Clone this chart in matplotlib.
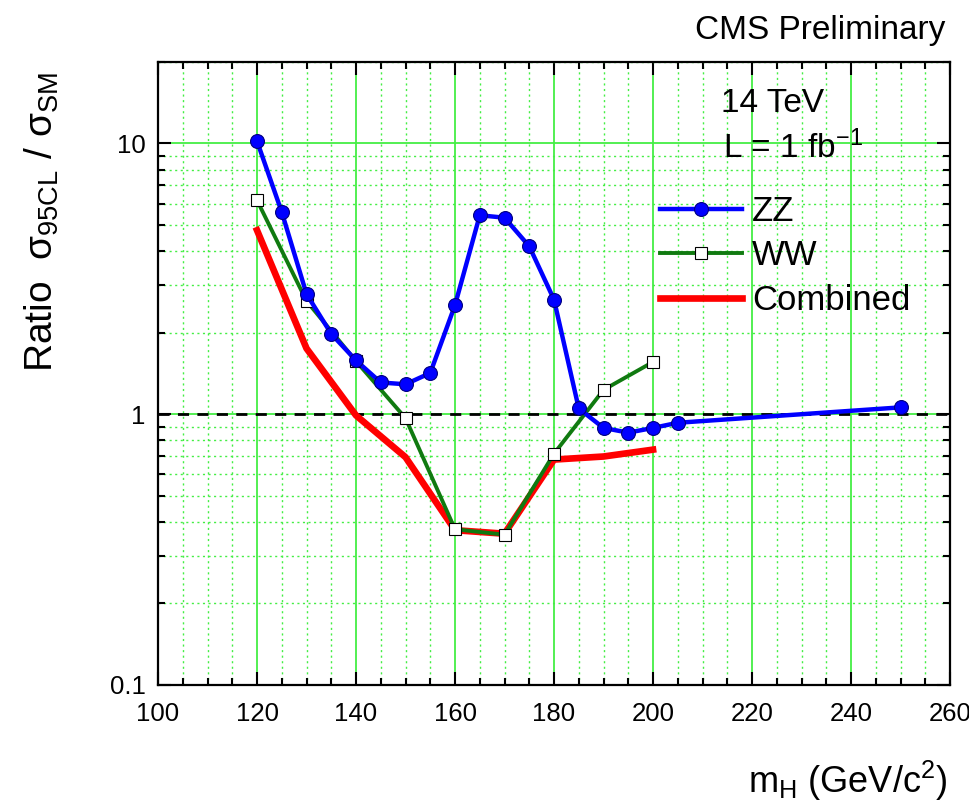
import matplotlib
matplotlib.use('Agg')
import matplotlib.pyplot as plt
from matplotlib.ticker import MultipleLocator, FixedLocator, LogLocator, NullFormatter

plt.rcParams['font.family'] = ['Liberation Sans', 'DejaVu Sans']
plt.rcParams['mathtext.fontset'] = 'custom'
plt.rcParams['mathtext.rm'] = 'Liberation Sans'
plt.rcParams['mathtext.it'] = 'Liberation Sans:italic'

# values
zz_mass = [120, 125, 130, 135, 140, 145, 150, 155, 160, 165, 170, 175, 180,
           185, 190, 195, 200, 205, 250]
zz_ratio = [10.2, 5.58, 2.78, 1.98, 1.58, 1.31, 1.29, 1.42, 2.53, 5.43, 5.32,
            4.17, 2.65, 1.05, 0.89, 0.855, 0.89, 0.93, 1.06]

ww_mass = [120, 130, 140, 150, 160, 170, 180, 190, 200]
ww_ratio = [6.17, 2.62, 1.57, 0.967, 0.376, 0.359, 0.715, 1.23, 1.56]

comb_mass = [120, 130, 140, 150, 160, 170, 180, 190, 200]
comb_ratio = [4.78, 1.75, 0.99, 0.694, 0.373, 0.362, 0.68, 0.698, 0.74]

y_ticks = [0.1, 1, 10]
y_ticklabels = ['0.1', '1', '10']

grid_green = '#44ee44'

fig = plt.figure(figsize=(9.7, 8.05), dpi=100)
ax = fig.add_axes([0.1629, 0.1491, 0.8165, 0.7739])

ax.set_yscale('log')
ax.set_xlim(100, 260)
ax.set_ylim(0.1, 20)

ax.xaxis.set_major_locator(MultipleLocator(20))
ax.xaxis.set_minor_locator(MultipleLocator(5))
ax.yaxis.set_major_locator(FixedLocator(y_ticks))
ax.set_yticklabels(y_ticklabels)
ax.yaxis.set_minor_locator(LogLocator(base=10, subs=range(2, 10)))
ax.yaxis.set_minor_formatter(NullFormatter())

ax.set_axisbelow(True)
ax.grid(which='major', color=grid_green, lw=1.3, ls='-')
ax.grid(which='minor', color=grid_green, lw=1.0, ls=(0, (1.5, 2.5)))

ax.tick_params(which='both', direction='in', top=True, right=True, width=1.5)
ax.tick_params(which='major', length=9.5, labelsize=18.5)
ax.tick_params(which='minor', length=5)
ax.tick_params(axis='x', which='major', pad=12)
ax.tick_params(axis='y', which='major', pad=9)
for s in ax.spines.values():
    s.set_linewidth(1.6)

ax.axhline(1.0, color='black', lw=2, ls=(0, (4, 3)), zorder=2)

ax.plot(comb_mass, comb_ratio, color='#ff0000', lw=4.8, label='Combined', zorder=3)
ax.plot(ww_mass, ww_ratio, color='#107a10', lw=2.8, marker='s', ms=8,
        mfc='white', mec='black', mew=0.8, label='WW', zorder=4)
ax.plot(zz_mass, zz_ratio, color='#0000ff', lw=3.2, marker='o', ms=10,
        mfc='#0000ff', mec='#000080', mew=0.8, label='ZZ', zorder=5)

handles, labels = ax.get_legend_handles_labels()
order = [2, 1, 0]
ax.legend([handles[i] for i in order], [labels[i] for i in order],
          loc='upper left', bbox_to_anchor=(0.634, 0.7865), frameon=False,
          fontsize=25, handlelength=2.35, handletextpad=0.3, labelspacing=0.33,
          borderpad=0, borderaxespad=0)

fig.text(773 / 970, 1 - 104 / 805, '14 TeV', fontsize=24, ha='center', va='center')
fig.text(793 / 970, 1 - 148 / 805, r'L = 1 fb$^{\mathregular{-1}}$', fontsize=24,
         ha='center', va='center')
fig.text(945 / 970, 1 - 30 / 805, 'CMS Preliminary', fontsize=24, ha='right', va='center')

ax.set_ylabel(r'Ratio  $\mathregular{\sigma_{95CL}}$ / $\mathregular{\sigma_{SM}}$', fontsize=28)
ax.yaxis.set_label_coords(-0.122, 0.743)
fig.text(947 / 970, 1 - 793 / 805, r'm$_{\mathregular{H}}$ (GeV/c$^{\mathregular{2}}$)',
         fontsize=26, ha='right', va='baseline')

fig.savefig('out.png', dpi=100)
